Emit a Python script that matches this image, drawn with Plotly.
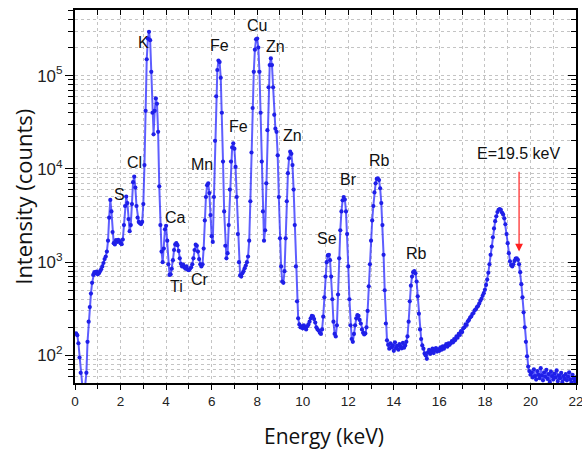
import numpy as np
import plotly.graph_objects as go

# ---------------- data ----------------
E_START = 0.05   # keV, first channel
E_STEP = 0.05    # keV per channel

# counts per channel, one row per keV
counts = [
    # 0.05 - 1.00
    172, 165, 135, 95, 65, 48, 40, 36, 45, 65, 140, 230, 330, 460, 600, 730, 780, 760, 790, 740,
    # 1.05 - 2.00
    760, 800, 840, 900, 980, 1080, 1150, 1300, 1700, 3000, 4650, 3500, 2100, 1600, 1550, 1720, 1650, 1740, 1680, 1600,
    # 2.05 - 3.00
    1560, 1750, 2500, 4000, 5050, 4300, 2900, 2150, 2500, 4200, 7200, 8250, 6300, 4000, 3000, 2700, 2620, 2560, 2700, 4200,
    # 3.05 - 4.00
    11000, 42000, 150000, 250000, 295000, 240000, 110000, 40000, 23500, 42000, 57000, 50000, 25000, 6500, 2500, 1300, 1000, 1400, 2250, 2450,
    # 4.05 - 5.00
    1700, 950, 730, 740, 850, 1050, 1350, 1550, 1600, 1520, 1320, 1100, 960, 900, 940, 880, 850, 900, 830, 820,
    # 5.05 - 6.00
    850, 880, 950, 1100, 1350, 1540, 1500, 1300, 1080, 950, 900, 950, 1400, 2800, 5000, 6700, 7000, 5500, 3200, 1900,
    # 6.05 - 7.00
    1650, 5000, 20000, 60000, 115000, 145000, 140000, 95000, 40000, 12000, 3500, 1500, 1100, 1250, 2500, 6000, 12000, 17000, 18800, 16500,
    # 7.05 - 8.00
    10500, 5000, 2000, 1000, 720, 700, 760, 800, 860, 920, 1000, 1150, 1700, 4500, 15000, 45000, 110000, 190000, 245000, 250000,
    # 8.05 - 9.00
    200000, 110000, 40000, 12000, 3500, 1700, 2200, 7000, 26000, 75000, 130000, 153000, 130000, 75000, 38000, 27000, 25000, 14000, 5000, 1800,
    # 9.05 - 10.00
    900, 620, 600, 800, 1800, 4500, 9000, 13000, 15300, 14500, 11000, 6000, 2500, 900, 380, 250, 215, 200, 205, 195,
    # 10.05 - 11.00
    210, 200, 190, 205, 215, 230, 250, 265, 262, 245, 225, 200, 190, 185, 175, 170, 190, 260, 420, 700,
    # 11.05 - 12.00
    1000, 1180, 1200, 1050, 700, 400, 230, 170, 160, 210, 450, 1100, 2200, 3500, 4600, 5000, 4700, 3500, 2000, 900,
    # 12.05 - 13.00
    400, 210, 150, 140, 170, 210, 250, 270, 265, 240, 220, 190, 175, 168, 172, 200, 300, 550, 950, 1700,
    # 13.05 - 14.00
    2800, 4000, 5600, 7000, 7800, 7900, 7600, 6200, 4300, 2500, 1200, 500, 220, 145, 130, 118, 135, 122, 128, 112,
    # 14.05 - 15.00
    138, 120, 127, 115, 132, 124, 119, 136, 121, 128, 140, 160, 230, 380, 560, 700, 780, 800, 760, 620,
    # 15.05 - 16.00
    430, 280, 190, 150, 128, 118, 105, 100, 92, 108, 115, 104, 112, 118, 106, 114, 120, 110, 116, 112,
    # 16.05 - 17.00
    122, 115, 125, 118, 126, 132, 124, 135, 130, 135, 142, 138, 150, 146, 160, 155, 170, 166, 182, 178,
    # 17.05 - 18.00
    195, 200, 215, 212, 232, 240, 255, 262, 278, 285, 305, 312, 330, 338, 360, 385, 405, 435, 465, 505,
    # 18.05 - 19.00
    570, 650, 770, 950, 1200, 1470, 1850, 2300, 2750, 3100, 3450, 3650, 3700, 3650, 3400, 3250, 2950, 2550, 2000, 1600,
    # 19.05 - 20.00
    1250, 1020, 930, 900, 950, 1030, 1090, 1100, 1060, 950, 780, 580, 420, 290, 200, 140, 98, 76, 68, 62,
    # 20.05 - 21.00
    66, 58, 71, 60, 55, 68, 62, 57, 73, 61, 54, 66, 59, 70, 56, 63, 52, 67, 60, 55,
    # 21.05 - 22.00
    64, 58, 69, 53, 61, 57, 65, 52, 60, 56, 63, 54, 59, 66, 55, 51, 62, 57, 53, 58,
]
energy = [round(E_START + i * E_STEP, 3) for i in range(len(counts))]

# element labels
label_text = ["K", "Fe", "Cu", "Zn", "Fe", "Zn", "Cl", "Mn", "S", "Ca", "Ti", "Cr",
              "Se", "Br", "Rb", "Rb"]
label_energy = [3.0, 6.34, 8.01, 8.80, 7.17, 9.56, 2.63, 5.56, 1.95, 4.43, 4.46, 5.49,
                11.05, 12.0, 13.39, 15.0]
label_counts = [228000, 213000, 341000, 208000, 28400, 22600, 11700, 11200, 5360, 3030,
                548, 658, 1800, 7760, 12300, 1250]

# excitation energy marker
excit_energy = 19.5
excit_text = "E=19.5 keV"
arrow_tail_counts = 9660
arrow_head_counts = 1300
excit_text_counts = 14800

x_title = "Energy (keV)"
y_title = "Intensity (counts)"
x_range = [0, 22]
y_range_counts = [50.6, 506000]
x_tickvals = [0, 2, 4, 6, 8, 10, 12, 14, 16, 18, 20, 22]

# ---------------- figure ----------------
y_range = [np.log10(y_range_counts[0]), np.log10(y_range_counts[1])]

fig = go.Figure()
fig.add_trace(go.Scatter(
    x=energy, y=counts, mode="lines+markers",
    line=dict(color="rgba(40,40,255,0.75)", width=2),
    marker=dict(color="#1f1fe8", size=4.2, symbol="circle"),
    showlegend=False, hoverinfo="x+y",
))
# invisible copy to anchor mirror axes (top / right with inward ticks)
fig.add_trace(go.Scatter(
    x=energy, y=counts, xaxis="x2", yaxis="y2", mode="lines",
    line=dict(width=0), opacity=0, showlegend=False, hoverinfo="skip",
))

grid_kw = dict(showgrid=True, gridcolor="#c4c4c4", griddash="dot", gridwidth=1)
tick_font = dict(family="Liberation Sans, Arial, sans-serif", size=13.5, color="#222")

fig.update_layout(
    width=582, height=449,
    margin=dict(l=75, r=6, t=10, b=66),
    paper_bgcolor="white", plot_bgcolor="white",
    xaxis=dict(
        range=x_range, tickvals=x_tickvals, ticks="outside", ticklen=5, tickwidth=1.2,
        tickcolor="black", showline=True, linecolor="black", linewidth=1.5,
        tickfont=tick_font, zeroline=False, automargin=False, ticklabeloverflow="allow",
        minor=dict(dtick=1, ticks="outside", ticklen=4, tickcolor="black", **grid_kw),
        **grid_kw,
    ),
    yaxis=dict(
        type="log", range=y_range, dtick=1, exponentformat="power",
        ticks="outside", ticklen=8, tickwidth=1.2, tickcolor="black",
        showline=True, linecolor="black", linewidth=1.5, tickfont=tick_font,
        zeroline=False, automargin=False,
        minor=dict(dtick="D1", ticks="outside", ticklen=5, tickcolor="black", **grid_kw),
        **grid_kw,
    ),
    xaxis2=dict(
        range=x_range, overlaying="x", side="top", anchor="y", dtick=1,
        ticks="inside", ticklen=5, tickwidth=1.2, tickcolor="black",
        showticklabels=False, showline=True, linecolor="black", linewidth=1.5,
        showgrid=False, zeroline=False, automargin=False,
    ),
    yaxis2=dict(
        type="log", range=y_range, overlaying="y", side="right", anchor="x2", dtick=1,
        ticks="inside", ticklen=8, tickwidth=1.2, tickcolor="black",
        showticklabels=False, showline=True, linecolor="black", linewidth=1.5,
        showgrid=False, zeroline=False, automargin=False,
        minor=dict(dtick="D1", ticks="inside", ticklen=5, tickcolor="black", showgrid=False),
    ),
)

# axis titles (placed in paper coordinates)
title_font = dict(family="Open Sans, sans-serif", size=21, color="#111")
fig.add_annotation(text=x_title, xref="paper", yref="paper", x=0.497, y=-0.142,
                   xanchor="center", yanchor="middle", showarrow=False, font=title_font)
fig.add_annotation(text=y_title, xref="paper", yref="paper", x=-0.104, y=0.499,
                   xanchor="center", yanchor="middle", showarrow=False,
                   font=dict(family="Open Sans, sans-serif", size=22, color="#111"),
                   textangle=-90)

label_font = dict(family="Liberation Sans, Arial, sans-serif", size=16, color="#111")
for t, e, c in zip(label_text, label_energy, label_counts):
    fig.add_annotation(x=e, y=np.log10(c), text=t, showarrow=False, font=label_font,
                       xref="x", yref="y")

fig.add_annotation(x=excit_energy, y=np.log10(excit_text_counts), text=excit_text,
                   showarrow=False, font=label_font, xref="x", yref="y")
fig.add_annotation(x=excit_energy, y=np.log10(arrow_head_counts),
                   ax=excit_energy, ay=np.log10(arrow_tail_counts),
                   xref="x", yref="y", axref="x", ayref="y",
                   text="", showarrow=True, arrowhead=2, arrowsize=1.3,
                   arrowwidth=1.2, arrowcolor="#ff2020")

fig.write_html(
    "out.html",
    config={"displayModeBar": False},
    post_script="document.body.style.margin='0';document.body.style.overflow='hidden';",
)
